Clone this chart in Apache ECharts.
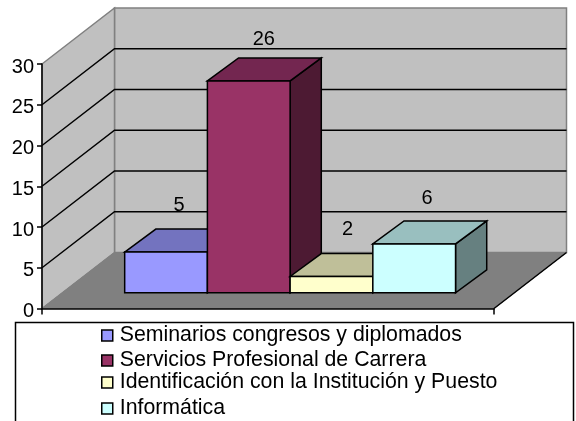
<!DOCTYPE html>
<html><head><meta charset="utf-8">
<style>html,body{margin:0;padding:0;background:#fff}#c{width:576px;height:421px}</style>
<script src="https://cdn.jsdelivr.net/npm/echarts@6/dist/echarts.min.js"></script>
</head><body><div id="c"></div>
<script>
const categories = ['Seminarios congresos y diplomados','Servicios Profesional de Carrera','Identificación con la Institución y Puesto','Informática'];
const values = [5, 26, 2, 6];
const gridValues = [5, 10, 15, 20, 25];
const frontColors = ['#9999FF','#993366','#FFFFCC','#CCFFFF'];
const topColors = ['#7373BF','#732650','#BFBF99','#99BFBF'];
const sideColors = ['#4D4D80','#4D1A33','#808066','#668080'];
const legendTops = [325, 350, 372, 398];
const labelNudge = [[-1,-1],[1,5],[2,-1],[-1,1]];

const FONT = '"Liberation Sans", Arial, sans-serif';
const WALL = [72.5, -56];     // full depth of the box in pixels
const NEAR = [0.305, 0.28], BAR_DEPTH = [0.43, 0.41];   // bar placement on the floor, as fraction of depth
const BAR_SHARE = 0.183;        // width of one bar as share of the band

const chart = echarts.init(document.getElementById('c'), null, {renderer:'canvas'});

function poly(points, fill, stroke, lw){
  return {type:'polygon', shape:{points}, style:{fill, stroke, lineWidth:lw, lineJoin:'miter'}};
}
function wallRender(params, api){
  const bl = api.coord([0,0]), size = api.size([1,0])[0];
  const x0 = bl[0]-size/2, x1 = bl[0]+size/2, y0 = bl[1], yt = api.coord([0,30])[1];
  const dx = WALL[0], dy = WALL[1];
  return {type:'group', children:[
    poly([[x0+dx,yt+dy],[x1+dx,yt+dy],[x1+dx,y0+dy],[x0+dx,y0+dy]],'#C0C0C0','#808080',1.5),
    poly([[x0,yt],[x0+dx,yt+dy],[x0+dx,y0+dy],[x0,y0]],'#C0C0C0','#808080',1.5),
    poly([[x0,y0],[x0+dx,y0+dy],[x1+dx,y0+dy],[x1,y0]],'#808080','#808080',1),
    {type:'line', shape:{x1:x1,y1:y0,x2:x1+dx,y2:y0+dy}, style:{stroke:'#000',lineWidth:1.5}}
  ]};
}
function gridRender(params, api){
  const v = api.value(1), p = api.coord([0,v]), size = api.size([1,0])[0];
  const x0 = p[0]-size/2, x1 = p[0]+size/2, dx = WALL[0], dy = WALL[1];
  return {type:'group', children:[
    {type:'polyline', shape:{points:[[x0,p[1]],[x0+dx,p[1]+dy],[x1+dx,p[1]+dy]]}, style:{fill:'none',stroke:'#000',lineWidth:1.5}}
  ]};
}
function barRender(i){
  return function(params, api){
    const v = api.value(1), base = api.coord([0,0]), top = api.coord([0,v]);
    const w = api.size([1,0])[0]*BAR_SHARE;
    const ox = WALL[0]*NEAR[0], oy = WALL[1]*NEAR[1];
    const L = base[0]+ox-2*w+i*w, R = L+w, T = top[1]+oy, B = base[1]+oy;
    const dx = WALL[0]*BAR_DEPTH[0], dy = WALL[1]*BAR_DEPTH[1];
    return {type:'group', children:[
      poly([[R,T],[R+dx,T+dy],[R+dx,B+dy],[R,B]], sideColors[i],'#000',1.5),
      poly([[L,T],[L+dx,T+dy],[R+dx,T+dy],[R,T]], topColors[i],'#000',1.5),
      poly([[L,T],[R,T],[R,B],[L,B]], frontColors[i],'#000',1.5),
      {type:'text', style:{text:String(v), x:(L+R)/2+14+labelNudge[i][0], y:T-46+labelNudge[i][1], align:'center', verticalAlign:'middle',
        font:'20px '+FONT, fill:'#000'}}
    ]};
  };
}

const series = [
  {type:'custom', name:'wall', data:[[0,0]], renderItem:wallRender, silent:true, z:1, clip:false},
  {type:'custom', name:'grid', data:gridValues.map(v=>[0,v]), renderItem:gridRender, silent:true, z:2, clip:false}
].concat(categories.map((name,i)=>({
  type:'custom', name, data:[[0,values[i]]], renderItem:barRender(i),
  itemStyle:{color:frontColors[i]}, z:3+i, clip:false
})));

chart.setOption({
  animation:false,
  backgroundColor:'#fff',
  grid:{left:42, top:64, width:452, height:244.5, containLabel:false},
  xAxis:{type:'category', data:['Total'], boundaryGap:true, z:10,
    axisLine:{show:true,lineStyle:{color:'#000',width:1.5}},
    axisTick:{show:true,alignWithLabel:false,length:6,lineStyle:{color:'#000',width:1.5}},
    axisLabel:{show:false}, splitLine:{show:false}},
  yAxis:{type:'value', min:0, max:30, interval:5, z:10,
    axisLine:{show:true,lineStyle:{color:'#000',width:1.5}},
    axisTick:{show:true,length:5,lineStyle:{color:'#000',width:1.5}},
    axisLabel:{color:'#000',fontFamily:FONT,fontSize:20,margin:8,verticalAlign:'top',lineHeight:6,showMinLabel:true,showMaxLabel:true},
    splitLine:{show:false}},
  legend: categories.map((name,i)=>({
    data:[{name,icon:'rect'}], left:101, top:legendTops[i], padding:0, orient:'vertical',
    itemWidth:11, itemHeight:11, selectedMode:false,
    itemStyle:{borderColor:'#000',borderWidth:1.5},
    textStyle:{color:'#000',fontFamily:FONT,fontSize:21.3,padding:[0,0,0,2]}
  })),
  graphic:[{type:'rect', z:0, silent:true, shape:{x:15.5,y:322.5,width:558,height:120},
    style:{fill:'#fff',stroke:'#000',lineWidth:1.5}}],
  series
});
</script></body></html>
